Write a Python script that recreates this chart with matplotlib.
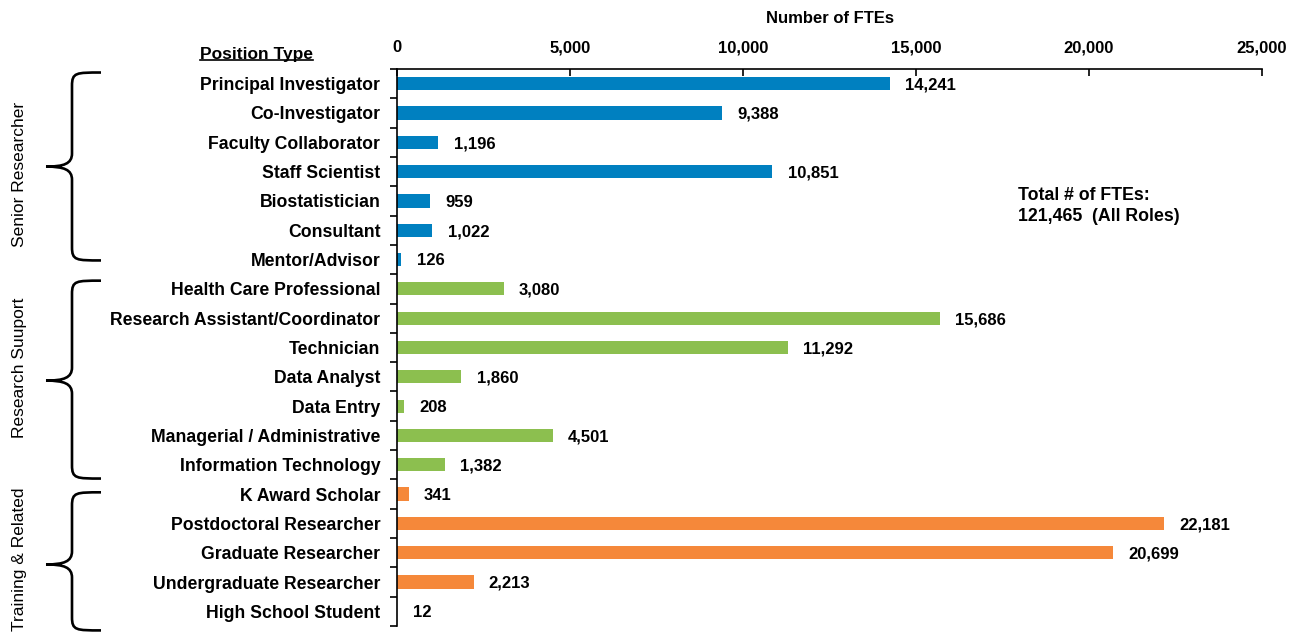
import matplotlib
matplotlib.use("Agg")
import matplotlib.pyplot as plt
import matplotlib.transforms as mtransforms
from matplotlib.path import Path
from matplotlib.patches import PathPatch

plt.rcParams["font.family"] = ["Liberation Sans", "DejaVu Sans"]

# 数据
positions = [
    "Principal Investigator", "Co-Investigator", "Faculty Collaborator",
    "Staff Scientist", "Biostatistician", "Consultant", "Mentor/Advisor",
    "Health Care Professional", "Research Assistant/Coordinator", "Technician",
    "Data Analyst", "Data Entry", "Managerial / Administrative",
    "Information Technology",
    "K Award Scholar", "Postdoctoral Researcher", "Graduate Researcher",
    "Undergraduate Researcher", "High School Student",
]
ftes = [14241, 9388, 1196, 10851, 959, 1022, 126,
        3080, 15686, 11292, 1860, 208, 4501, 1382,
        341, 22181, 20699, 2213, 12]
groups = ["Senior Researcher", "Research Suuport", "Training & Related"]
group_sizes = [7, 7, 5]
group_colors = ["#0080C0", "#8CBF4F", "#F5883A"]
x_ticks = [0, 5000, 10000, 15000, 20000, 25000]
total_text = "Total # of FTEs:\n121,465  (All Roles)"


def draw_brace(fig, ax, y_top, y_bot, y_mid):
    # x 用像素换算成 figure 坐标, y 用数据坐标
    W = fig.get_size_inches()[0] * fig.dpi
    x_end, x_spine, x_tip = 101 / W, 72 / W, 46 / W
    r = 0.45
    trans = mtransforms.blended_transform_factory(fig.transFigure, ax.transData)
    verts = [
        (x_end, y_top),
        (x_spine + 4 / W, y_top), (x_spine, y_top), (x_spine, y_top + r),
        (x_spine, y_mid - r),
        (x_spine, y_mid - 0.1), (x_spine - 8 / W, y_mid), (x_tip, y_mid),
        (x_spine - 8 / W, y_mid), (x_spine, y_mid + 0.1), (x_spine, y_mid + r),
        (x_spine, y_bot - r),
        (x_spine, y_bot), (x_spine + 4 / W, y_bot), (x_end, y_bot),
    ]
    codes = [Path.MOVETO,
             Path.CURVE4, Path.CURVE4, Path.CURVE4,
             Path.LINETO,
             Path.CURVE4, Path.CURVE4, Path.CURVE4,
             Path.CURVE4, Path.CURVE4, Path.CURVE4,
             Path.LINETO,
             Path.CURVE4, Path.CURVE4, Path.CURVE4]
    patch = PathPatch(Path(verts, codes), transform=trans, fill=False,
                      lw=1.9, color="black", clip_on=False, capstyle="butt")
    fig.add_artist(patch)


def plot_chart(output_image):
    fig = plt.figure(figsize=(12.93, 6.32), dpi=100)
    ax = fig.add_axes([397 / 1293, 1 - 626 / 632, 865 / 1293, 557 / 632])

    colors = []
    for c, n in zip(group_colors, group_sizes):
        colors += [c] * n

    y = list(range(len(positions)))
    ax.barh(y, ftes, height=0.45, color=colors)

    for i, v in enumerate(ftes):
        ax.annotate(f"{v:,}", xy=(v, i), xytext=(11, -1), textcoords="offset points",
                    va="center", ha="left", fontsize=12, fontweight="bold")

    ax.set_xlim(0, 25000)
    ax.set_ylim(len(positions) - 0.5, -0.5)

    # 上方 x 轴
    ax.xaxis.tick_top()
    ax.xaxis.set_label_position("top")
    ax.set_xticks(x_ticks)
    ax.set_xticklabels([f"{t:,}" for t in x_ticks], fontsize=12, fontweight="bold")
    ax.tick_params(axis="x", direction="in", length=5, width=1.2, pad=10)
    ax.set_xlabel("Number of FTEs", fontsize=12, fontweight="bold", labelpad=12)

    # 左侧 y 轴
    ax.set_yticks(y)
    ax.set_yticklabels(positions, fontsize=12.7, fontweight="bold")
    ax.set_yticks([i + 0.5 for i in range(-1, len(positions))], minor=True)
    ax.tick_params(axis="y", which="major", length=0, pad=12)
    ax.tick_params(axis="y", which="minor", length=5, width=1.2, direction="out")

    for s in ["right", "bottom"]:
        ax.spines[s].set_visible(False)
    for s in ["left", "top"]:
        ax.spines[s].set_linewidth(1.2)

    # 大括号与分组标签
    brace_spans = [(-0.38, 6.03, 2.83), (6.72, 13.47, 10.13), (13.94, 18.65, 16.4)]
    text_y = [3.1, 9.7, 16.22]
    trans = mtransforms.blended_transform_factory(fig.transFigure, ax.transData)
    for (y0, y1, ym), g, ty in zip(brace_spans, groups, text_y):
        draw_brace(fig, ax, y0, y1, ym)
        ax.text(20 / 1293, ty, g, transform=trans, rotation=90, fontsize=12.5,
                ha="center", va="center", clip_on=False)

    # 标题 Position Type 加下划线
    t = fig.text(256 / 1293, 1 - 55 / 632, "Position Type", fontsize=12.5,
                 fontweight="bold", ha="center", va="center")
    fig.canvas.draw()
    bb = t.get_window_extent().transformed(fig.transFigure.inverted())
    fig.add_artist(plt.Line2D([bb.x0, bb.x1], [bb.y0 + 0.004, bb.y0 + 0.004],
                              transform=fig.transFigure, color="black", lw=1.2))

    fig.text(1018 / 1293, 1 - 206 / 632, total_text, fontsize=12.8, fontweight="bold",
             ha="left", va="center", linespacing=1.3)

    fig.savefig(output_image, dpi=100)
    plt.close(fig)


if __name__ == "__main__":
    plot_chart("out.png")
